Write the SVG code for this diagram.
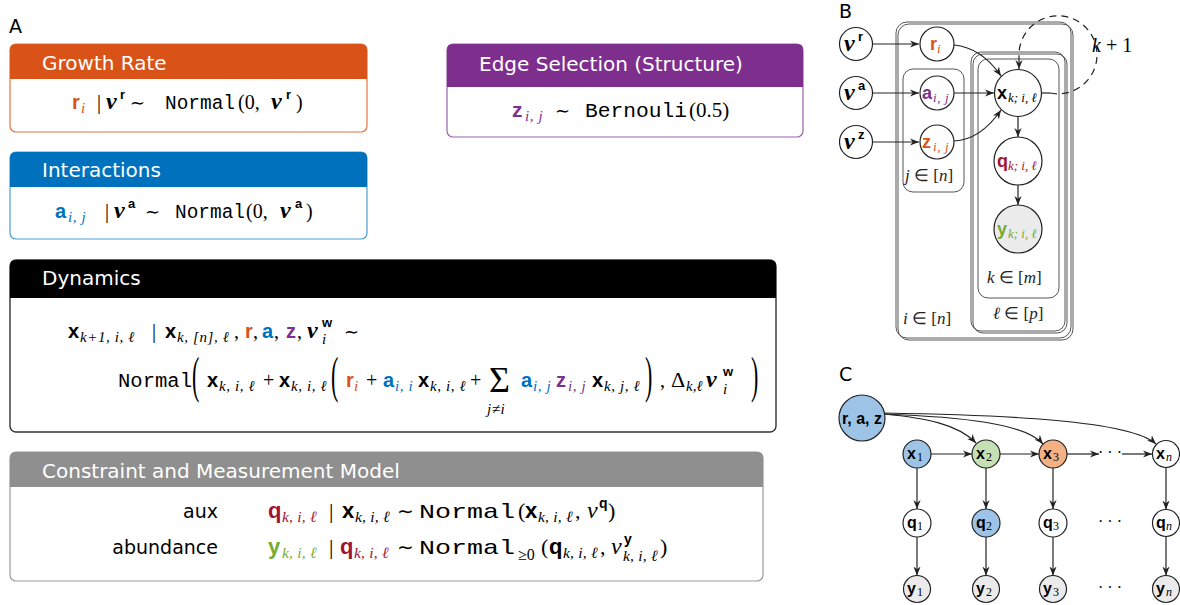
<svg xmlns="http://www.w3.org/2000/svg" width="1180" height="605" viewBox="0 0 1180 605">
<style>
.ttl{font-family:"DejaVu Sans",sans-serif;font-size:20px;fill:#fff}
.lbl{font-family:"DejaVu Sans",sans-serif;font-size:19px;fill:#000}
.m{font-family:"Liberation Serif",serif;font-size:20px;fill:#000}
.bv{font-family:"Liberation Sans",sans-serif;font-weight:bold}
.si{font-family:"Liberation Serif",serif;font-style:italic;font-size:15px;letter-spacing:0.6px}
.si2{font-family:"Liberation Serif",serif;font-style:italic;font-size:15.5px;letter-spacing:0.2px}
.nu{font-family:"Liberation Serif",serif;font-style:italic;font-weight:bold;font-size:24px}
.nui{font-family:"Liberation Serif",serif;font-style:italic;font-size:24px}
.sp{font-family:"Liberation Sans",sans-serif;font-weight:bold;font-size:13px}
.tt{font-family:"Liberation Mono",monospace;font-size:19.5px}
.sim{font-family:"DejaVu Sans",sans-serif;font-size:18px}
.big{font-family:"Liberation Serif",serif;font-size:22px}
.R{fill:#D95319}.A{fill:#0072BD}.Z{fill:#7E2F8E}.Q{fill:#A2142F}.Y{fill:#77AC30}
.node{fill:#fff;stroke:#222;stroke-width:1.2}
.plate{fill:none;stroke:#444;stroke-width:0.9}
.edge{fill:none;stroke:#222;stroke-width:1.2}
.gl{font-family:"Liberation Serif",serif;font-size:17px;fill:#222}
.it{font-style:italic}
.pl{font-family:"DejaVu Sans",sans-serif;font-size:19px;fill:#000}
</style>
<defs>
<marker id="ar" viewBox="0 0 10 10" refX="10" refY="5" markerWidth="9" markerHeight="9" markerUnits="userSpaceOnUse" orient="auto"><path d="M0,1 L10,5 L0,9 L3,5 z" fill="#222"/></marker>
</defs>
<rect width="1180" height="605" fill="#fff"/>

<text class="pl" x="9" y="33">A</text>
<text class="pl" x="839" y="18">B</text>
<text class="pl" x="839" y="381">C</text>

<!-- Growth Rate -->
<g id="growth">
<rect x="10" y="44" width="357" height="88" rx="6" fill="#fff" stroke="#E3753F" stroke-width="1.2"/>
<path d="M10,79 L10,50 Q10,44 16,44 L361,44 Q367,44 367,50 L367,79 Z" fill="#D95319"/>
<text class="ttl" x="42" y="70">Growth Rate</text>
<text class="m" y="109"><tspan x="72" class="bv R">r</tspan><tspan x="81" dy="4" class="si R">i</tspan><tspan x="97" dy="-4">|</tspan><tspan x="106" class="nu">ν</tspan><tspan x="120" dy="-10" class="sp">r</tspan><tspan x="130" dy="10" class="sim">∼</tspan><tspan x="165" class="tt" textLength="70" lengthAdjust="spacingAndGlyphs">Normal</tspan><tspan x="238">(0,</tspan><tspan x="271" class="nu">ν</tspan><tspan x="286" dy="-10" class="sp">r</tspan><tspan x="296" dy="10">)</tspan></text>
</g>

<!-- Interactions -->
<g id="interactions">
<rect x="10" y="152" width="357" height="87" rx="6" fill="#fff" stroke="#4A9FD8" stroke-width="1.2"/>
<path d="M10,187 L10,158 Q10,152 16,152 L361,152 Q367,152 367,158 L367,187 Z" fill="#0072BD"/>
<text class="ttl" x="42" y="177">Interactions</text>
<text class="m" y="218"><tspan x="55" class="bv A">a</tspan><tspan x="68" dy="4" class="si A">i, j</tspan><tspan x="105" dy="-4">|</tspan><tspan x="114" class="nu">ν</tspan><tspan x="128" dy="-10" class="sp">a</tspan><tspan x="145" dy="10" class="sim">∼</tspan><tspan x="175" class="tt" textLength="70" lengthAdjust="spacingAndGlyphs">Normal</tspan><tspan x="246">(0,</tspan><tspan x="280" class="nu">ν</tspan><tspan x="295" dy="-10" class="sp">a</tspan><tspan x="306" dy="10">)</tspan></text>
</g>

<!-- Edge Selection -->
<g id="edge-selection">
<rect x="447" y="44" width="356" height="93" rx="6" fill="#fff" stroke="#9B63A8" stroke-width="1.2"/>
<path d="M447,87 L447,50 Q447,44 453,44 L797,44 Q803,44 803,50 L803,87 Z" fill="#7E2F8E"/>
<text class="ttl" x="479" y="71">Edge Selection (Structure)</text>
<text class="m" y="117" style="font-size:21px"><tspan x="512" class="bv Z">z</tspan><tspan x="525" dy="4" class="si Z">i, j</tspan><tspan x="555" dy="-4" class="sim">∼</tspan><tspan x="585" class="tt" style="font-size:21px" textLength="102" lengthAdjust="spacingAndGlyphs">Bernouli</tspan><tspan x="689">(0.5)</tspan></text>
</g>

<!-- Dynamics -->
<g id="dynamics">
<rect x="10" y="260" width="766" height="172" rx="6" fill="#fff" stroke="#333" stroke-width="1.4"/>
<path d="M10,298 L10,266 Q10,260 16,260 L770,260 Q776,260 776,266 L776,298 Z" fill="#000"/>
<text class="ttl" x="42" y="285">Dynamics</text>
<text class="m" y="338"><tspan x="68" class="bv">x</tspan><tspan x="80" dy="4" class="si">k+1, i, ℓ</tspan><tspan x="152" dy="-4">|</tspan><tspan x="165" class="bv">x</tspan><tspan x="177" dy="4" class="si">k, [n], ℓ</tspan><tspan x="234" dy="-4">,</tspan><tspan x="245" class="bv R">r</tspan><tspan x="253">,</tspan><tspan x="262" class="bv A">a</tspan><tspan x="274">,</tspan><tspan x="286" class="bv Z">z</tspan><tspan x="297">,</tspan><tspan x="307" class="nu">ν</tspan><tspan x="344" class="sim">∼</tspan></text>
<text class="sp" x="322" y="327">w</text>
<text class="si" x="322" y="344">i</text>

<text class="m" y="387"><tspan x="118" class="tt" textLength="74" lengthAdjust="spacingAndGlyphs">Normal</tspan><tspan x="207" class="bv">x</tspan><tspan x="219" dy="4" class="si">k, i, ℓ</tspan><tspan x="263" dy="-4">+</tspan><tspan x="279" class="bv">x</tspan><tspan x="291" dy="4" class="si">k, i, ℓ</tspan><tspan x="346" dy="-4" class="bv R">r</tspan><tspan x="354" dy="4" class="si R">i</tspan><tspan x="366" dy="-4">+</tspan><tspan x="383" class="bv A">a</tspan><tspan x="395" dy="4" class="si A">i, i</tspan><tspan x="418" dy="-4" class="bv">x</tspan><tspan x="430" dy="4" class="si">k, i, ℓ</tspan><tspan x="470" dy="-4">+</tspan><tspan x="521" class="bv A">a</tspan><tspan x="533" dy="4" class="si A">i, j</tspan><tspan x="556" dy="-4" class="bv Z">z</tspan><tspan x="568" dy="4" class="si Z">i, j</tspan><tspan x="592" dy="-4" class="bv">x</tspan><tspan x="604" dy="4" class="si">k, j, ℓ</tspan><tspan x="660" dy="-4">,</tspan><tspan x="671" style="font-size:22px">Δ</tspan><tspan x="686" dy="4" class="si" style="letter-spacing:0">k,ℓ</tspan><tspan x="706" dy="-4" class="nu">ν</tspan></text>
<text class="sp" x="723" y="376">w</text>
<text class="si" x="723" y="394">i</text>
<text class="m" x="489" y="392" style="font-size:36px">Σ</text>
<text class="si" x="487" y="414">j≠i</text>
<text class="big" transform="translate(192,392) scale(1,2.3)">(</text>
<text class="big" transform="translate(331,392) scale(1,2.3)">(</text>
<text class="big" transform="translate(645,392) scale(1,2.3)">)</text>
<text class="big" transform="translate(751,392) scale(1,2.3)">)</text>
</g>

<!-- Constraint and Measurement -->
<g id="constraint">
<rect x="10" y="452" width="753" height="129" rx="6" fill="#fff" stroke="#9a9a9a" stroke-width="1.2"/>
<path d="M10,487 L10,458 Q10,452 16,452 L757,452 Q763,452 763,458 L763,487 Z" fill="#8F8F8F"/>
<text class="ttl" x="42" y="478">Constraint and Measurement Model</text>
<text class="lbl" x="218" y="518" text-anchor="end">aux</text>
<text class="lbl" x="218" y="554" text-anchor="end">abundance</text>
<text class="m" y="518" style="font-size:22px"><tspan x="268" class="bv Q">q</tspan><tspan x="282" dy="4" class="si2 Q">k, i, ℓ</tspan><tspan x="329" dy="-4">|</tspan><tspan x="342" class="bv">x</tspan><tspan x="355" dy="4" class="si2">k, i, ℓ</tspan><tspan x="397" dy="-4" class="sim" style="font-size:20px">∼</tspan><tspan x="419" class="tt" style="font-size:21px" textLength="96" lengthAdjust="spacingAndGlyphs">Normal</tspan><tspan x="518">(</tspan><tspan x="525" class="bv">x</tspan><tspan x="538" dy="4" class="si2">k, i, ℓ</tspan><tspan x="575" dy="-4">,</tspan><tspan x="587" class="nui">ν</tspan><tspan x="599" dy="-10" class="sp" style="font-size:14px">q</tspan><tspan x="608" dy="10">)</tspan></text>
<text class="m" y="554" style="font-size:22px"><tspan x="268" class="bv Y">y</tspan><tspan x="282" dy="4" class="si2 Y">k, i, ℓ</tspan><tspan x="329" dy="-4">|</tspan><tspan x="340" class="bv Q">q</tspan><tspan x="354" dy="4" class="si2 Q">k, i, ℓ</tspan><tspan x="397" dy="-4" class="sim" style="font-size:20px">∼</tspan><tspan x="419" class="tt" style="font-size:21px" textLength="96" lengthAdjust="spacingAndGlyphs">Normal</tspan><tspan x="518" dy="6" style="font-size:16px">≥0</tspan><tspan x="541" dy="-6">(</tspan><tspan x="549" class="bv">q</tspan><tspan x="563" dy="4" class="si2">k, i, ℓ</tspan><tspan x="600" dy="-4">,</tspan><tspan x="611" class="nui">ν</tspan><tspan x="660">)</tspan></text>
<text class="sp" x="624" y="544" style="font-size:14px">y</text>
<text class="si2" x="623" y="561">k, i, ℓ</text>
</g>

<!-- Panel B plates -->
<g id="plate-i">
<rect class="plate" x="896" y="22" width="175" height="316" rx="11"/>
<rect class="plate" x="898" y="24" width="175" height="316" rx="11"/>
<text class="gl" x="903" y="324"><tspan class="it">i</tspan> ∈ [<tspan class="it">n</tspan>]</text>
</g>
<g id="plate-j">
<rect class="plate" x="903" y="69" width="61" height="123" rx="10"/>
<text class="gl" x="905" y="181"><tspan class="it">j</tspan> ∈ [<tspan class="it">n</tspan>]</text>
</g>
<g id="plate-l">
<rect class="plate" x="971" y="52" width="94" height="279" rx="10"/>
<rect class="plate" x="973" y="54" width="94" height="279" rx="10"/>
<text class="gl" x="993" y="319"><tspan class="it">ℓ</tspan> ∈ [<tspan class="it">p</tspan>]</text>
</g>
<g id="plate-k">
<rect class="plate" x="978" y="59" width="81" height="239" rx="10"/>
<text class="gl" x="987" y="283"><tspan class="it">k</tspan> ∈ [<tspan class="it">m</tspan>]</text>
</g>

<!-- Panel B nodes -->
<g id="nu-r"><circle class="node" cx="856" cy="44" r="16.5"/><text class="m" y="51"><tspan x="844" class="nu">ν</tspan><tspan x="858" dy="-10" class="sp">r</tspan></text></g>
<g id="nu-a"><circle class="node" cx="856" cy="93" r="16.5"/><text class="m" y="100"><tspan x="844" class="nu">ν</tspan><tspan x="858" dy="-10" class="sp">a</tspan></text></g>
<g id="nu-z"><circle class="node" cx="856" cy="142" r="16.5"/><text class="m" y="149"><tspan x="844" class="nu">ν</tspan><tspan x="858" dy="-10" class="sp">z</tspan></text></g>
<g id="r-i"><circle class="node" cx="937" cy="44" r="17"/><text class="m" y="50" style="font-size:18px"><tspan x="930" class="bv R">r</tspan><tspan x="937" dy="3" class="si R" style="font-size:13px">i</tspan></text></g>
<g id="a-ij"><circle class="node" cx="937" cy="93" r="17"/><text class="m" y="99" style="font-size:18px"><tspan x="922" class="bv Z">a</tspan><tspan x="933" dy="3" class="si Z" style="font-size:13px">i, j</tspan></text></g>
<g id="z-ij"><circle class="node" cx="937" cy="142" r="17"/><text class="m" y="148" style="font-size:18px"><tspan x="922" class="bv R">z</tspan><tspan x="933" dy="3" class="si R" style="font-size:13px">i, j</tspan></text></g>
<g id="x-kil"><circle class="node" cx="1018" cy="93" r="23.5"/><text class="m" y="99" style="font-size:18px"><tspan x="997" class="bv">x</tspan><tspan x="1008" dy="3" class="si" style="font-size:13px;letter-spacing:0">k; i, ℓ</tspan></text></g>
<g id="q-kil"><circle class="node" cx="1018" cy="161" r="24"/><text class="m" y="167" style="font-size:18px"><tspan x="997" class="bv Q">q</tspan><tspan x="1008" dy="3" class="si Q" style="font-size:13px;letter-spacing:0">k; i, ℓ</tspan></text></g>
<g id="y-kil"><circle class="node" cx="1018" cy="229" r="24" style="fill:#EBEBEB"/><text class="m" y="235" style="font-size:18px"><tspan x="997" class="bv Y">y</tspan><tspan x="1008" dy="3" class="si Y" style="font-size:13px;letter-spacing:0">k; i, ℓ</tspan></text></g>
<text class="m" x="1092" y="52" style="font-size:20px"><tspan class="it">k</tspan> + 1</text>

<!-- Panel C nodes -->
<g id="raz"><circle class="node" cx="862" cy="418" r="23" style="fill:#9DC3E6"/><text class="bv" x="862" y="424" style="font-size:16px" text-anchor="middle">r, a, z</text></g>
<g id="x1"><circle class="node" cx="917" cy="454" r="14" style="fill:#9DC3E6"/><text class="m" y="459" style="font-size:16px"><tspan x="907" class="bv">x</tspan><tspan x="917" dy="2" style="font-size:12px">1</tspan></text></g>
<g id="x2"><circle class="node" cx="986" cy="454" r="14" style="fill:#C5E0B4"/><text class="m" y="459" style="font-size:16px"><tspan x="976" class="bv">x</tspan><tspan x="986" dy="2" style="font-size:12px">2</tspan></text></g>
<g id="x3"><circle class="node" cx="1053" cy="454" r="14" style="fill:#F4B183"/><text class="m" y="459" style="font-size:16px"><tspan x="1043" class="bv">x</tspan><tspan x="1053" dy="2" style="font-size:12px">3</tspan></text></g>
<g id="xn"><circle class="node" cx="1166" cy="454" r="13.5"/><text class="m" y="459" style="font-size:16px"><tspan x="1156" class="bv">x</tspan><tspan x="1166" dy="2" class="it" style="font-size:12px">n</tspan></text></g>
<g id="q1"><circle class="node" cx="917" cy="523" r="14"/><text class="m" y="528" style="font-size:16px"><tspan x="907" class="bv">q</tspan><tspan x="917" dy="2" style="font-size:12px">1</tspan></text></g>
<g id="q2"><circle class="node" cx="986" cy="523" r="14" style="fill:#9DC3E6"/><text class="m" y="528" style="font-size:16px"><tspan x="976" class="bv">q</tspan><tspan x="986" dy="2" style="font-size:12px">2</tspan></text></g>
<g id="q3"><circle class="node" cx="1053" cy="523" r="14"/><text class="m" y="528" style="font-size:16px"><tspan x="1043" class="bv">q</tspan><tspan x="1053" dy="2" style="font-size:12px">3</tspan></text></g>
<g id="qn"><circle class="node" cx="1166" cy="523" r="13.5"/><text class="m" y="528" style="font-size:16px"><tspan x="1156" class="bv">q</tspan><tspan x="1166" dy="2" class="it" style="font-size:12px">n</tspan></text></g>
<g id="y1"><circle class="node" cx="917" cy="589" r="13.5" style="fill:#EBEBEB"/><text class="m" y="594" style="font-size:16px"><tspan x="907" class="bv">y</tspan><tspan x="917" dy="2" style="font-size:12px">1</tspan></text></g>
<g id="y2"><circle class="node" cx="986" cy="589" r="13.5" style="fill:#EBEBEB"/><text class="m" y="594" style="font-size:16px"><tspan x="976" class="bv">y</tspan><tspan x="986" dy="2" style="font-size:12px">2</tspan></text></g>
<g id="y3"><circle class="node" cx="1053" cy="589" r="13.5" style="fill:#EBEBEB"/><text class="m" y="594" style="font-size:16px"><tspan x="1043" class="bv">y</tspan><tspan x="1053" dy="2" style="font-size:12px">3</tspan></text></g>
<g id="yn"><circle class="node" cx="1166" cy="589" r="13.5" style="fill:#EBEBEB"/><text class="m" y="594" style="font-size:16px"><tspan x="1156" class="bv">y</tspan><tspan x="1166" dy="2" class="it" style="font-size:12px">n</tspan></text></g>
<text class="m" x="1110" y="458" style="font-size:16px" text-anchor="middle">· · ·</text>
<text class="m" x="1110" y="527" style="font-size:16px" text-anchor="middle">· · ·</text>
<text class="m" x="1110" y="593" style="font-size:16px" text-anchor="middle">· · ·</text>

<!-- connectors -->
<g id="connectors">
<path class="edge" d="M873,44 L919,44" marker-end="url(#ar)"/>
<path class="edge" d="M873,93 L919,93" marker-end="url(#ar)"/>
<path class="edge" d="M873,142 L919,142" marker-end="url(#ar)"/>
<path class="edge" d="M954,45 C975,47 990,60 1001,76" marker-end="url(#ar)"/>
<path class="edge" d="M954,93 L994,93" marker-end="url(#ar)"/>
<path class="edge" d="M954,141 C975,140 990,126 1001,110" marker-end="url(#ar)"/>
<path class="edge" d="M1018,117 L1018,137" marker-end="url(#ar)"/>
<path class="edge" d="M1018,185 L1018,205" marker-end="url(#ar)"/>
<path class="edge" d="M1041,93 L1050,93"/>
<path class="edge" d="M1050,93 A39,39 0 1 0 1019,54 L1019,69" stroke-dasharray="7,5" marker-end="url(#ar)"/>

<path class="edge" d="M931,454 L972,454" marker-end="url(#ar)"/>
<path class="edge" d="M1000,454 L1039,454" marker-end="url(#ar)"/>
<path class="edge" d="M1067,454 L1099,454" marker-end="url(#ar)"/>
<path class="edge" d="M1122,454 L1152,454" marker-end="url(#ar)"/>
<path class="edge" d="M884,414 C925,418 958,424 976,443" marker-end="url(#ar)"/>
<path class="edge" d="M884,414 C960,417 1025,423 1043,444" marker-end="url(#ar)"/>
<path class="edge" d="M884,413 C1000,415 1130,420 1156,444" marker-end="url(#ar)"/>
<path class="edge" d="M917,468 L917,509" marker-end="url(#ar)"/>
<path class="edge" d="M986,468 L986,509" marker-end="url(#ar)"/>
<path class="edge" d="M1053,468 L1053,509" marker-end="url(#ar)"/>
<path class="edge" d="M1166,467.5 L1166,509.5" marker-end="url(#ar)"/>
<path class="edge" d="M917,537 L917,575.5" marker-end="url(#ar)"/>
<path class="edge" d="M986,537 L986,575.5" marker-end="url(#ar)"/>
<path class="edge" d="M1053,537 L1053,575.5" marker-end="url(#ar)"/>
<path class="edge" d="M1166,536.5 L1166,575.5" marker-end="url(#ar)"/>
</g>
</svg>
